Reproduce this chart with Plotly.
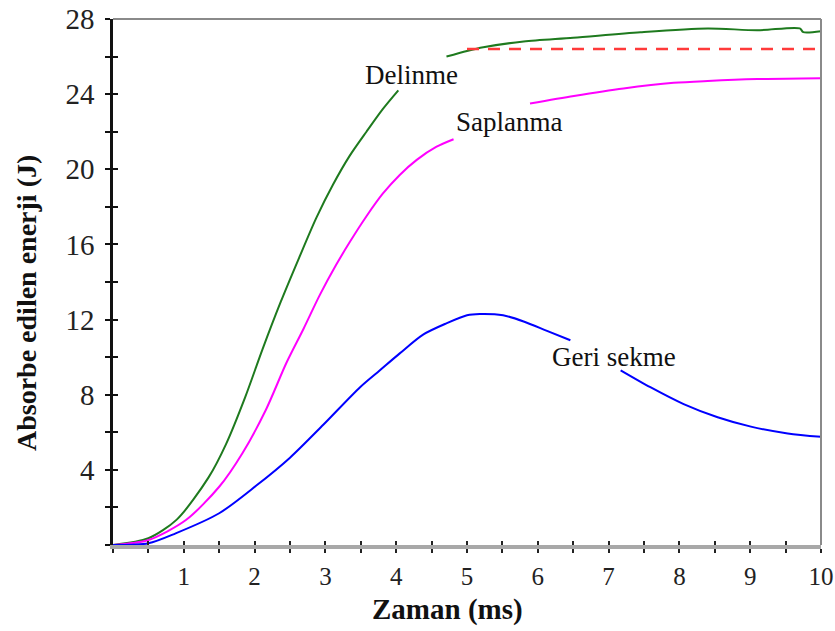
import plotly.graph_objects as go

# Absorbed energy vs. time for three impact outcomes (None = break where the label sits)
t_delinme = [0, 0.5, 0.9, 1.35, 1.6, 1.87, 2.11, 2.37, 2.63, 2.87, 3.11, 3.34, 3.58, 3.81, 4.03,
             None, 4.71, 5.0, 5.23, 5.8, 6.5, 7.45, 8.4, 9.1, 9.7, 9.75, 10.0]
e_delinme = [0, 0.36, 1.35, 3.6, 5.4, 7.9, 10.4, 12.95, 15.3, 17.4, 19.2, 20.7, 22.0, 23.2, 24.2,
             None, 26.0, 26.3, 26.5, 26.8, 27.0, 27.3, 27.5, 27.4, 27.5, 27.3, 27.35]

t_saplanma = [0, 0.5, 1.03, 1.5, 1.83, 2.16, 2.45, 2.69, 2.92, 3.15, 3.34, 3.58, 3.81, 4.05, 4.29,
              4.57, 4.81, None, 5.89, 6.51, 7.21, 7.92, 8.4, 9.1, 10.0]
e_saplanma = [0, 0.27, 1.33, 3.1, 4.9, 7.2, 9.7, 11.5, 13.3, 14.9, 16.1, 17.5, 18.7, 19.7, 20.5,
              21.2, 21.6, None, 23.5, 23.9, 24.3, 24.6, 24.7, 24.8, 24.85]

t_geri = [0, 0.5, 0.885, 1.5, 2.02, 2.5, 2.97, 3.49, 3.77, 4.05, 4.38, 4.71, 5.0, 5.18, 5.51,
          5.8, 6.13, 6.46, None, 7.17, 7.59, 8.06, 8.54, 9.01, 9.53, 10.0]
e_geri = [0, 0.09, 0.62, 1.69, 3.15, 4.65, 6.4, 8.4, 9.3, 10.2, 11.2, 11.8, 12.23, 12.3, 12.23,
          11.9, 11.4, 10.9, None, 9.3, 8.4, 7.5, 6.8, 6.3, 5.94, 5.76]

# Reference level for perforation energy
t_ref = [5.0, 10.0]
e_ref = [26.4, 26.4]

x_ticks = [1, 2, 3, 4, 5, 6, 7, 8, 9, 10]
y_ticks = [4, 8, 12, 16, 20, 24, 28]

labels = ["Delinme", "Saplanma", "Geri sekme"]
label_t = [4.22, 5.6, 7.07]
label_e = [25.0, 22.5, 10.0]

SERIF = "Liberation Serif"

fig = go.Figure()
curve = dict(mode="lines", connectgaps=False, line_shape="spline")
fig.add_trace(go.Scatter(x=t_delinme, y=e_delinme, **curve,
                         line=dict(color="#1e7a1e", width=2, smoothing=0.8)))
fig.add_trace(go.Scatter(x=t_saplanma, y=e_saplanma, **curve,
                         line=dict(color="#ff00ff", width=2, smoothing=0.8)))
fig.add_trace(go.Scatter(x=t_geri, y=e_geri, **curve,
                         line=dict(color="#0000ff", width=2, smoothing=0.8)))
fig.add_trace(go.Scatter(x=t_ref, y=e_ref, mode="lines",
                         line=dict(color="#ff3a3a", width=2.5, dash="12px,9px")))
# empty trace so the overlay axes (inner half of the crossing ticks) get drawn
fig.add_trace(go.Scatter(x=[None], y=[None], xaxis="x2", yaxis="y2", mode="lines",
                         hoverinfo="skip"))

for txt, tx, ty in zip(labels, label_t, label_e):
    fig.add_annotation(x=tx, y=ty, text=txt, showarrow=False, xanchor="center",
                       yanchor="middle", font=dict(family=SERIF, size=27, color="#111"))

fig.add_annotation(xref="paper", yref="paper", x=(447 - 113) / 708, y=(545 - 609) / 526,
                   xanchor="center", yanchor="middle",
                   text="<b>Zaman (ms)</b>", showarrow=False,
                   font=dict(family=SERIF, size=29, color="#111"))
fig.add_annotation(xref="paper", yref="paper", x=(26 - 113) / 708, y=(545 - 303) / 526,
                   xanchor="center", yanchor="middle",
                   text="<b>Absorbe edilen enerji (J)</b>", textangle=-90, showarrow=False,
                   font=dict(family=SERIF, size=28, color="#111"))

# top and right frame lines
fig.add_shape(type="line", xref="x domain", yref="y domain", x0=0, x1=1, y0=1, y1=1,
              line=dict(color="#8a8a8a", width=2))
fig.add_shape(type="line", xref="x domain", yref="y domain", x0=1, x1=1, y0=0, y1=1,
              line=dict(color="#8a8a8a", width=2))

fig.update_layout(
    width=835, height=631,
    margin=dict(l=113, r=14, t=19, b=86, autoexpand=False),
    paper_bgcolor="white", plot_bgcolor="white",
    showlegend=False,
    xaxis=dict(range=[0, 10], tickvals=x_ticks, ticks="outside", ticklen=4, tickwidth=1.5,
               tickcolor="#222", showgrid=False, zeroline=False, showline=True,
               linecolor="#a8a8a8", linewidth=4, ticklabelstandoff=2, automargin=False,
               tickfont=dict(family=SERIF, size=25, color="#222"),
               minor=dict(dtick=0.5, tick0=0, ticks="outside", ticklen=4, tickwidth=1.5,
                          tickcolor="#222")),
    yaxis=dict(range=[0, 28], tickvals=y_ticks, ticks="outside", ticklen=5, tickwidth=1.5,
               tickcolor="#111", showgrid=False, zeroline=False, showline=True,
               linecolor="#111", linewidth=2.5, ticklabelstandoff=5, automargin=False,
               tickfont=dict(family=SERIF, size=29, color="#222"),
               minor=dict(dtick=2, tick0=0, ticks="outside", ticklen=5, tickwidth=1.5,
                          tickcolor="#111")),
    xaxis2=dict(range=[0, 10], overlaying="x", anchor="y2", side="bottom", dtick=0.5, tick0=0,
                ticks="inside", ticklen=4, tickwidth=1.5, tickcolor="#222", automargin=False,
                showticklabels=False, showgrid=False, zeroline=False, showline=False),
    yaxis2=dict(range=[0, 28], overlaying="y", anchor="x2", side="left", dtick=2, tick0=0,
                ticks="inside", ticklen=5, tickwidth=1.5, tickcolor="#111", automargin=False,
                showticklabels=False, showgrid=False, zeroline=False, showline=False),
)

fig.write_html("out.html")
